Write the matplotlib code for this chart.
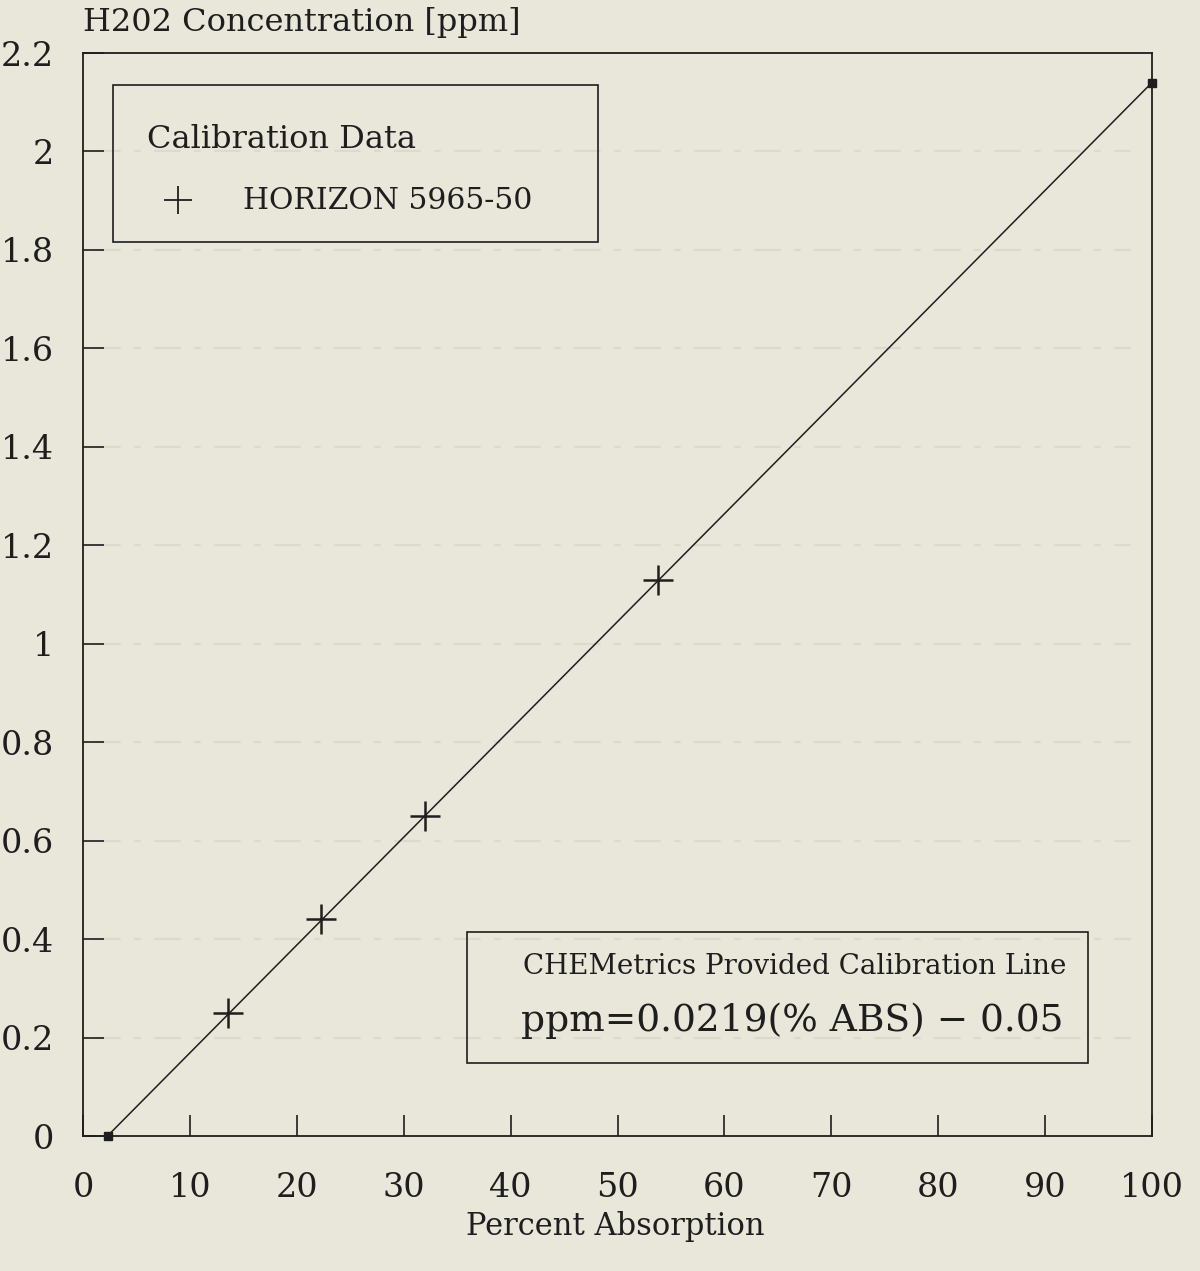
import matplotlib
matplotlib.use("Agg")
import matplotlib.pyplot as plt
from matplotlib.patches import Rectangle

# Data
pct_abs = [13.6, 22.3, 32.0, 53.8]
ppm_meas = [0.25, 0.44, 0.65, 1.13]
line_x = [2.3, 100.0]
slope = 0.0219
intercept = -0.05
x_ticks = [0, 10, 20, 30, 40, 50, 60, 70, 80, 90, 100]
y_ticks = [0, 0.2, 0.4, 0.6, 0.8, 1, 1.2, 1.4, 1.6, 1.8, 2, 2.2]
y_tick_labels = ["0", "0.2", "0.4", "0.6", "0.8", "1", "1.2", "1.4", "1.6", "1.8", "2", "2.2"]

bg = "#e9e6da"
ink = "#1e1e1e"
faint = "#dcd9cd"
plt.rcParams['font.family'] = ['DejaVu Serif']

fig = plt.figure(figsize=(12, 12.71), dpi=100, facecolor=bg)
ax = fig.add_axes([0.0692, 0.1062, 0.8908, 0.8521], facecolor=bg)

# faint horizontal grid remnants
for yv in y_ticks[1:-1]:
    ax.axhline(yv, xmin=0.01, xmax=0.98, color=faint, lw=1.6, ls=(0, (12, 6, 3, 6)), zorder=0)

line_y = [slope * x + intercept for x in line_x]
ax.plot(line_x, line_y, color=ink, lw=1.1, zorder=2)
ax.plot(line_x, line_y, ls='none', marker='s', ms=6, color=ink, zorder=3, clip_on=False)
ax.plot(pct_abs, ppm_meas, ls='none', marker='+', ms=22, mew=1.8, color=ink, zorder=4)

ax.set_xlim(0, 100)
ax.set_ylim(0, 2.2)
ax.set_xticks(x_ticks)
ax.set_yticks(y_ticks)
ax.set_yticklabels(y_tick_labels)
ax.tick_params(axis='both', direction='in', length=15, width=1.2, colors=ink,
               labelsize=24, top=False, right=False)
ax.tick_params(axis='x', pad=26)
ax.tick_params(axis='y', pad=21)
for s in ax.spines.values():
    s.set_color(ink)
    s.set_linewidth(1.3)
for lab in ax.get_xticklabels() + ax.get_yticklabels():
    lab.set_color(ink)

# Axis titles
fig.text(83/1200, 1 - 22/1271, "H202 Concentration [ppm]", fontsize=23, color=ink,
         ha='left', va='center')
fig.text(615/1200, 1 - 1226/1271, "Percent Absorption", fontsize=22, color=ink,
         ha='center', va='center')

# Legend box
ax.add_patch(Rectangle((0.028, 0.8255), 0.454, 0.1445, transform=ax.transAxes,
                       fill=False, ec=ink, lw=1.2, zorder=5))
ax.text((147-83)/1069, (1136-139)/1083, "Calibration Data", transform=ax.transAxes,
        fontsize=23, color=ink, ha='left', va='center')
ax.plot([(178-83)/1069], [(1136-200)/1083], transform=ax.transAxes, marker='+',
        ms=20, mew=1.3, color=ink, ls='none')
ax.text((243-83)/1069, (1136-201)/1083, "HORIZON 5965-50", transform=ax.transAxes,
        fontsize=21.5, color=ink, ha='left', va='center')

# Equation box
ax.add_patch(Rectangle((0.359, 0.0674), 0.581, 0.1206, transform=ax.transAxes,
                       fill=False, ec=ink, lw=1.2, zorder=5))
ax.text((795-83)/1069, (1136-966)/1083, "CHEMetrics Provided Calibration Line",
        transform=ax.transAxes, fontsize=20, color=ink, ha='center', va='center')
ax.text((521-83)/1069, (1136-1021)/1083, "ppm=0.0219(% ABS) \u2212 0.05",
        transform=ax.transAxes, fontsize=27, color=ink, ha='left', va='center')

fig.savefig("out.png", dpi=100, facecolor=bg)
